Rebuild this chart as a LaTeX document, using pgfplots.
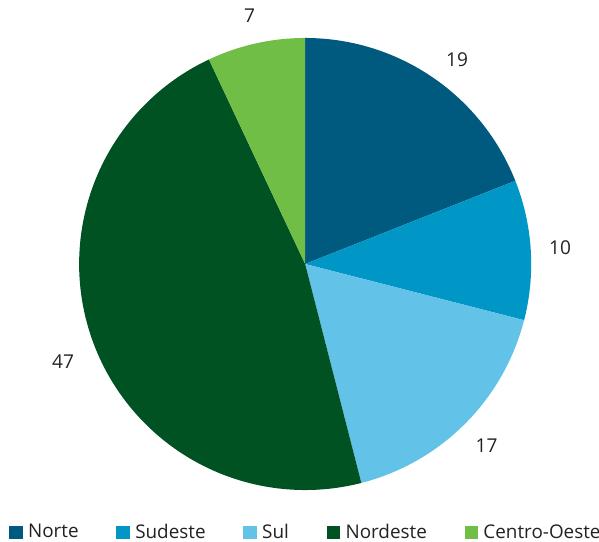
\documentclass[border=0pt]{standalone}
\usepackage{pgfplots}
\pgfplotsset{compat=1.18}
\usepackage{fontspec}
\setmainfont{Open Sans}
\definecolor{cNorte}{HTML}{005A7F}
\definecolor{cSudeste}{HTML}{0096C6}
\definecolor{cSul}{HTML}{63C2E7}
\definecolor{cNordeste}{HTML}{005222}
\definecolor{cCentro}{HTML}{70BE45}
\definecolor{txt}{HTML}{222222}
\begin{document}
\begin{tikzpicture}
% data (percent)
\def\vNorte{19}
\def\vSudeste{10}
\def\vSul{17}
\def\vNordeste{47}
\def\vCentro{7}
\pgfmathsetmacro{\aA}{90}
\pgfmathsetmacro{\aB}{\aA-3.6*\vNorte}
\pgfmathsetmacro{\aC}{\aB-3.6*\vSudeste}
\pgfmathsetmacro{\aD}{\aC-3.6*\vSul}
\pgfmathsetmacro{\aE}{\aD-3.6*\vNordeste}
\pgfmathsetmacro{\aF}{\aE-3.6*\vCentro}
\pgfmathsetmacro{\xN}{1.125*cos((\aA+\aB)/2-2.5)}\pgfmathsetmacro{\yN}{1.125*sin((\aA+\aB)/2-2.5)}
\pgfmathsetmacro{\xSe}{1.13*cos((\aB+\aC)/2)}\pgfmathsetmacro{\ySe}{1.13*sin((\aB+\aC)/2)}
\pgfmathsetmacro{\xS}{1.135*cos((\aC+\aD)/2)}\pgfmathsetmacro{\yS}{1.135*sin((\aC+\aD)/2)}
\pgfmathsetmacro{\xNe}{1.155*cos((\aD+\aE)/2+2.2)}\pgfmathsetmacro{\yNe}{1.155*sin((\aD+\aE)/2+2.2)}
\pgfmathsetmacro{\xC}{1.125*cos((\aE+\aF)/2)}\pgfmathsetmacro{\yC}{1.125*sin((\aE+\aF)/2)}
\begin{axis}[
  hide axis, scale only axis, clip=false,
  width=10.6cm, height=9.576cm,
  xmin=-1.35, xmax=1.30, ymin=-1.226, ymax=1.168,
  legend columns=5,
  legend image code/.code={\fill[#1] (0pt,-3.4pt) rectangle (6.8pt,3.4pt);},
  legend style={draw=none, fill=none, inner sep=0pt,
    nodes={inner sep=0pt},
    at={(0.509,0.0155)}, anchor=center,
    font=\fontsize{9.5}{11}\selectfont, text=txt,
    /tikz/every odd column/.append style={column sep=2.7pt},
    /tikz/every even column/.append style={column sep=19pt}},
]
\addplot[fill=cNorte, draw=none, domain=\aB:\aA, samples=60] ({cos(x)},{sin(x)}) -- (axis cs:0,0) -- cycle;
\addlegendentry{Norte}
\addplot[fill=cSudeste, draw=none, domain=\aC:\aB, samples=40] ({cos(x)},{sin(x)}) -- (axis cs:0,0) -- cycle;
\addlegendentry{Sudeste}
\addplot[fill=cSul, draw=none, domain=\aD:\aC, samples=60] ({cos(x)},{sin(x)}) -- (axis cs:0,0) -- cycle;
\addlegendentry{Sul}
\addplot[fill=cNordeste, draw=none, domain=\aE:\aD, samples=120] ({cos(x)},{sin(x)}) -- (axis cs:0,0) -- cycle;
\addlegendentry{Nordeste}
\addplot[fill=cCentro, draw=none, domain=\aF:\aE, samples=30] ({cos(x)},{sin(x)}) -- (axis cs:0,0) -- cycle;
\addlegendentry{Centro-Oeste}
\node[text=txt, font=\fontsize{9.6}{12}\selectfont] at (axis cs:\xN,\yN) {\vNorte};
\node[text=txt, font=\fontsize{9.6}{12}\selectfont] at (axis cs:\xSe,\ySe) {\vSudeste};
\node[text=txt, font=\fontsize{9.6}{12}\selectfont] at (axis cs:\xS,\yS) {\vSul};
\node[text=txt, font=\fontsize{9.6}{12}\selectfont] at (axis cs:\xNe,\yNe) {\vNordeste};
\node[text=txt, font=\fontsize{9.6}{12}\selectfont] at (axis cs:\xC,\yC) {\vCentro};
\end{axis}
\pgfresetboundingbox
\path (current axis.south west) rectangle (current axis.north east);
\end{tikzpicture}
\end{document}
